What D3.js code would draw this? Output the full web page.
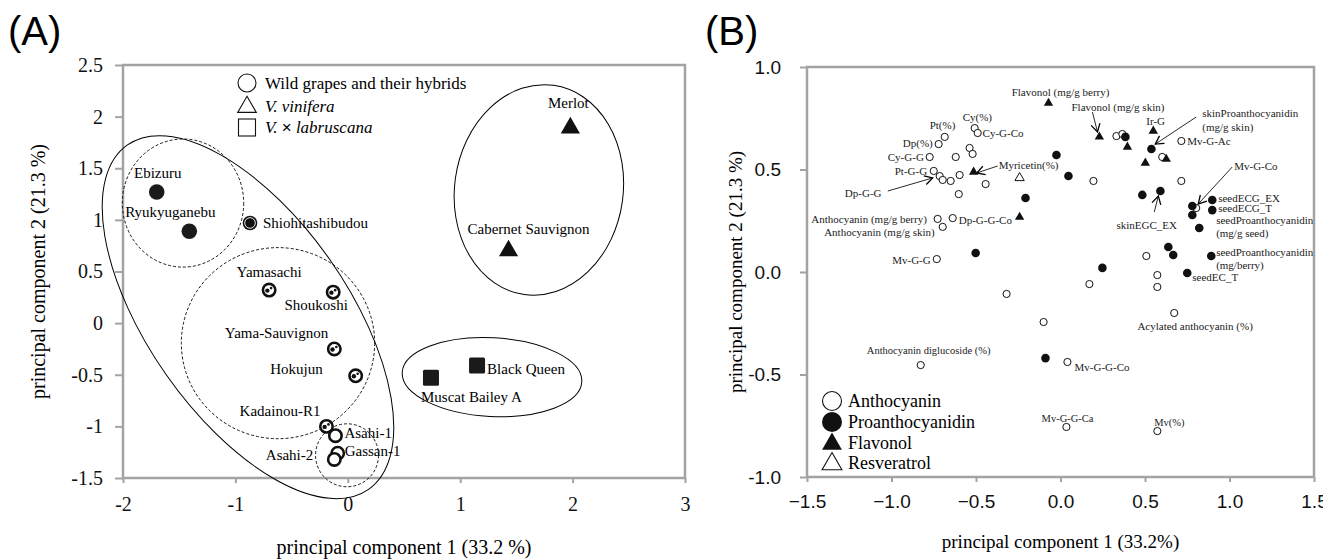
<!DOCTYPE html>
<html>
<head>
<meta charset="utf-8">
<script src="https://cdn.jsdelivr.net/npm/d3@7"></script>
<style>
  body { margin: 0; background: #fff; }
  svg { display: block; }
</style>
</head>
<body>
<svg width="1323" height="560"></svg>
<script>
// ---------- panel A data : cultivars on PC1 / PC2 ----------
const grapeNames = ["Ebizuru", "Ryukyuganebu", "Shiohitashibudou", "Yamasachi", "Shoukoshi",
  "Yama-Sauvignon", "Hokujun", "Kadainou-R1", "Asahi-1", "Gassan-1", "Asahi-2",
  "Merlot", "Cabernet Sauvignon", "Black Queen", "Muscat Bailey A"];
const grapePC1 = [-1.70, -1.41, -0.87, -0.70, -0.13, -0.12, 0.07, -0.19, -0.11, -0.09, -0.12, 1.98, 1.43, 1.15, 0.74];
const grapePC2 = [1.27, 0.89, 0.97, 0.32, 0.30, -0.25, -0.51, -1.00, -1.09, -1.26, -1.32, 1.90, 0.71, -0.41, -0.53];
const grapeGroup = ["wild", "wild", "wild", "wild", "wild", "wild", "wild", "wild", "wild", "wild", "wild",
  "vinifera", "vinifera", "labruscana", "labruscana"];
const grapeMark = ["solid", "solid", "ringed", "spotted", "spotted", "spotted", "spotted", "spotted",
  "open", "open", "open", "solid", "solid", "solid", "solid"];

// cluster outlines (centre in PC units, radii in PC1 units, rotation deg)
const clusterCx = [-0.888, -1.466, -0.621, -0.007, 1.70, 1.283];
const clusterCy = [0.058, 1.163, -0.194, -1.28, 1.29, -0.523];
const clusterRx = [1.87, 0.54, 0.86, 0.28, 0.75, 0.80];
const clusterRy = [0.89, 0.57, 0.85, 0.28, 0.94, 0.35];
const clusterRot = [55, 0, 0, 0, 8, 3];
const clusterDashed = [false, true, true, true, false, false];

const aXTicks = [-2, -1, 0, 1, 2, 3];
const aXTickLabels = ["-2", "-1", "0", "1", "2", "3"];
const aYTicks = [2.5, 2, 1.5, 1, 0.5, 0, -0.5, -1, -1.5];
const aYTickLabels = ["2.5", "2", "1.5", "1", "0.5", "0", "-0.5", "-1", "-1.5"];

// ---------- panel B data : loadings ----------
const anthoX = [-0.685, -0.721, -0.508, -0.490, -0.774, -0.620, -0.538, -0.520, -0.750, -0.715, -0.697,
  -0.650, -0.597, -0.602, -0.443, -0.727, -0.638, -0.697, -0.732, 0.331, 0.366, 0.715, 0.602, 0.195,
  0.715, 0.803, 0.508, 0.573, 0.171, 0.573, -0.319, 0.673, -0.100, 0.041, -0.827, 0.035, 0.573];
const anthoY = [0.659, 0.624, 0.702, 0.678, 0.561, 0.561, 0.605, 0.576, 0.493, 0.468, 0.449,
  0.444, 0.473, 0.380, 0.429, 0.259, 0.263, 0.220, 0.063, 0.663, 0.673, 0.639, 0.561, 0.444,
  0.444, 0.312, 0.078, -0.015, -0.059, -0.073, -0.107, -0.200, -0.244, -0.439, -0.454, -0.756, -0.776];
const proX = [0.384, 0.538, -0.024, 0.047, -0.207, 0.484, 0.591, 0.780, 0.898, 0.898, 0.780,
  0.821, 0.638, 0.667, 0.892, 0.248, 0.750, -0.502, -0.089];
const proY = [0.659, 0.600, 0.571, 0.468, 0.361, 0.376, 0.395, 0.322, 0.351, 0.302, 0.278,
  0.215, 0.122, 0.083, 0.078, 0.020, -0.005, 0.093, -0.420];
const flavX = [-0.071, 0.230, 0.396, 0.549, 0.626, 0.502, -0.514, -0.242];
const flavY = [0.824, 0.659, 0.610, 0.688, 0.551, 0.532, 0.488, 0.268];
const resvX = [-0.242];
const resvY = [0.459];

const bXTicks = [-1.5, -1.0, -0.5, 0, 0.5, 1.0, 1.5];
const bXTickLabels = ["\u22121.5", "\u22121.0", "\u22120.5", "0.0", "0.5", "1.0", "1.5"];
const bYTicks = [1.0, 0.5, 0, -0.5, -1.0];
const bYTickLabels = ["1.0", "0.5", "0.0", "-0.5", "-1.0"];

// variable names, anchored in loading units
const varText = ["Flavonol (mg/g berry)", "Flavonol (mg/g skin)", "Ir-G", "skinProanthocyanidin", "(mg/g skin)",
  "Mv-G-Ac", "Cy(%)", "Cy-G-Co", "Pt(%)", "Dp(%)", "Cy-G-G", "Pt-G-G", "Dp-G-G", "Myricetin(%)", "Mv-G-Co",
  "seedECG_EX", "seedECG_T", "skinEGC_EX", "Anthocyanin (mg/g berry)", "Dp-G-G-Co", "Anthocyanin (mg/g skin)",
  "seedProanthocyanidin", "(mg/g seed)", "seedProanthocyanidin", "(mg/berry)", "Mv-G-G", "seedEC_T",
  "Acylated anthocyanin (%)", "Anthocyanin diglucoside (%)", "Mv-G-G-Co", "Mv-G-G-Ca", "Mv(%)"];
const varTextX = [-0.289, 0.065, 0.508, 0.839, 0.839, 0.750, -0.579, -0.461, -0.774, -0.933, -1.022, -0.981,
  -1.276, -0.366, 1.028, 0.933, 0.933, 0.331, -0.791, -0.602, -0.744, 0.921, 0.921, 0.921, 0.921, -0.768,
  0.780, 0.455, -1.146, 0.083, -0.112, 0.555];
const varTextY = [0.878, 0.805, 0.737, 0.776, 0.707, 0.639, 0.756, 0.678, 0.717, 0.629, 0.561, 0.493,
  0.385, 0.522, 0.517, 0.361, 0.312, 0.229, 0.259, 0.254, 0.195, 0.254, 0.190, 0.098, 0.034, 0.059,
  -0.024, -0.263, -0.380, -0.463, -0.712, -0.732];
const varTextEnd = ["Anthocyanin (mg/g berry)", "Anthocyanin (mg/g skin)", "Mv-G-G"];
const varTextSmall = ["Anthocyanin diglucoside (%)", "Mv-G-G-Ca", "Mv(%)"];

// pointer arrows from names to their loading
const arrowX1 = [-1.022, -0.372, 0.189, 0.803, 1.016, 0.555];
const arrowY1 = [0.395, 0.517, 0.780, 0.756, 0.512, 0.293];
const arrowX2 = [-0.756, -0.496, 0.219, 0.561, 0.815, 0.579];
const arrowY2 = [0.459, 0.483, 0.683, 0.624, 0.332, 0.371];

// ---------- drawing ----------
const svg = d3.select("svg");
const serif = "'Liberation Serif', 'Times New Roman', serif";
const sans = "'Liberation Sans', Arial, sans-serif";
const frameGrey = "#a3a3a3";

svg.append("defs").append("marker")
  .attr("id", "vhead")
  .attr("viewBox", "-10 -6 12 12")
  .attr("markerWidth", 12).attr("markerHeight", 12)
  .attr("markerUnits", "userSpaceOnUse")
  .attr("orient", "auto")
  .append("path")
  .attr("d", "M-8,-4.5L0,0L-8,4.5")
  .attr("fill", "none").attr("stroke", "#000").attr("stroke-width", 1.3);

function drawFrame(g, x, y, xTicks, xLabels, yTicks, yLabels, o) {
  const [x0, x1] = x.range();
  const [y0, y1] = y.range();
  g.append("g")
    .attr("transform", `translate(0,${y0})`)
    .call(d3.axisBottom(x).tickValues(xTicks).tickFormat((d, i) => xLabels[i])
      .tickSize(o.xTick).tickPadding(o.xPad).tickSizeOuter(0))
    .call(a => a.select(".domain").remove())
    .call(a => a.selectAll("line").attr("stroke", frameGrey).attr("stroke-width", 2))
    .call(a => a.selectAll("text").attr("fill", "#111").style("font-family", o.font).style("font-size", o.size + "px"));
  g.append("g")
    .attr("transform", `translate(${x0},0)`)
    .call(d3.axisLeft(y).tickValues(yTicks).tickFormat((d, i) => yLabels[i])
      .tickSize(o.yTick).tickPadding(o.yPad).tickSizeOuter(0))
    .call(a => a.select(".domain").remove())
    .call(a => a.selectAll("line").attr("stroke", frameGrey).attr("stroke-width", 2))
    .call(a => a.selectAll("text").attr("fill", "#111").style("font-family", o.font).style("font-size", o.size + "px"));
  g.append("rect")
    .attr("x", x0).attr("y", y1)
    .attr("width", x1 - x0).attr("height", y0 - y1)
    .attr("fill", "none").attr("stroke", frameGrey).attr("stroke-width", 2.5);
}

// ===== Panel A =====
const gA = svg.append("g");
const xA = d3.scaleLinear().domain([-2, 3]).range([123, 685]);
const yA = d3.scaleLinear().domain([-1.5, 2.5]).range([478, 65]);
const unitA = xA(1) - xA(0);

drawFrame(gA, xA, yA, aXTicks, aXTickLabels, aYTicks, aYTickLabels,
  { xTick: 5, xPad: 14, yTick: 8, yPad: 12, font: serif, size: 20 });

gA.append("text").attr("x", 8).attr("y", 45)
  .style("font-family", sans).style("font-size", "40px").text("(A)");

gA.append("text")
  .attr("x", (xA.range()[0] + xA.range()[1]) / 2).attr("y", 554)
  .attr("text-anchor", "middle")
  .style("font-family", serif).style("font-size", "20px")
  .text("principal component 1 (33.2 %)");
gA.append("text")
  .attr("transform", `translate(45,${(yA.range()[0] + yA.range()[1]) / 2}) rotate(-90)`)
  .attr("text-anchor", "middle")
  .style("font-family", serif).style("font-size", "20px")
  .text("principal component 2 (21.3 %)");

// cluster outlines
clusterCx.forEach((cx, i) => {
  const px = xA(cx), py = yA(clusterCy[i]);
  gA.append("ellipse")
    .attr("cx", px).attr("cy", py)
    .attr("rx", clusterRx[i] * unitA).attr("ry", clusterRy[i] * unitA)
    .attr("transform", `rotate(${clusterRot[i]},${px},${py})`)
    .attr("fill", "none").attr("stroke", "#000")
    .attr("stroke-width", clusterDashed[i] ? 0.9 : 1)
    .attr("stroke-dasharray", clusterDashed[i] ? "3,2" : null);
});

// points
const triA = d3.symbol().type(d3.symbolTriangle).size(160);
grapeNames.forEach((name, i) => {
  const px = xA(grapePC1[i]), py = yA(grapePC2[i]);
  const grp = grapeGroup[i], mk = grapeMark[i];
  if (grp === "vinifera") {
    gA.append("path").attr("d", triA()).attr("transform", `translate(${px},${py + 1})`).attr("fill", "#111");
  } else if (grp === "labruscana") {
    gA.append("rect").attr("x", px - 8).attr("y", py - 8).attr("width", 16).attr("height", 16)
      .attr("rx", 1.5).attr("fill", "#1a1a1a");
  } else if (mk === "solid") {
    gA.append("circle").attr("cx", px).attr("cy", py).attr("r", 7.8).attr("fill", "#1a1a1a");
  } else if (mk === "ringed") {
    gA.append("circle").attr("cx", px).attr("cy", py).attr("r", 7.3).attr("fill", "#111");
    gA.append("circle").attr("cx", px).attr("cy", py).attr("r", 5.3)
      .attr("fill", "none").attr("stroke", "#fff").attr("stroke-width", 0.9);
  } else {
    gA.append("circle").attr("cx", px).attr("cy", py).attr("r", 6.2)
      .attr("fill", "#fff").attr("stroke", "#111").attr("stroke-width", 2.6);
    if (mk === "spotted") {
      gA.append("circle").attr("cx", px - 1.8).attr("cy", py + 0.5).attr("r", 2.2).attr("fill", "#111");
      gA.append("circle").attr("cx", px + 2).attr("cy", py - 2).attr("r", 1.3).attr("fill", "#111");
    }
  }
});

// cultivar names (offsets from their marker)
const nameOffset = {
  "Ebizuru": [1, -19, "middle"], "Ryukyuganebu": [-19, -19, "middle"], "Shiohitashibudou": [13, 0, "start"],
  "Yamasachi": [0, -18, "middle"], "Shoukoshi": [-17, 13, "middle"], "Yama-Sauvignon": [-6, -16, "end"],
  "Hokujun": [-33, -7, "end"], "Kadainou-R1": [-6, -16, "end"], "Asahi-1": [9, -3, "start"],
  "Gassan-1": [7, -2, "start"], "Asahi-2": [-21, -5, "end"], "Merlot": [-2, -24, "middle"],
  "Cabernet Sauvignon": [20, -21, "middle"], "Black Queen": [10, 3, "start"], "Muscat Bailey A": [-10, 19, "start"]
};
grapeNames.forEach((name, i) => {
  const [dx, dy, anchor] = nameOffset[name];
  gA.append("text")
    .attr("x", xA(grapePC1[i]) + dx).attr("y", yA(grapePC2[i]) + dy)
    .attr("dy", "0.35em").attr("text-anchor", anchor)
    .style("font-family", serif).style("font-size", "15px")
    .text(name);
});

// legend A
const legA = gA.append("g").attr("transform", "translate(247,0)");
legA.append("circle").attr("cx", 0).attr("cy", 83).attr("r", 9)
  .attr("fill", "#fff").attr("stroke", "#111").attr("stroke-width", 1.1);
legA.append("path").attr("d", d3.symbol().type(d3.symbolTriangle).size(150)())
  .attr("transform", "translate(0,107)").attr("fill", "#fff").attr("stroke", "#111").attr("stroke-width", 1.1);
legA.append("rect").attr("x", -8.5).attr("y", 119).attr("width", 17).attr("height", 17)
  .attr("fill", "#fff").attr("stroke", "#111").attr("stroke-width", 1.1);
const legAText = legA.append("g").style("font-family", serif).style("font-size", "17px");
legAText.append("text").attr("x", 18).attr("y", 83).attr("dy", "0.35em").text("Wild grapes and their hybrids");
legAText.append("text").attr("x", 18).attr("y", 106).attr("dy", "0.35em").style("font-style", "italic").text("V. vinifera");
const lab = legAText.append("text").attr("x", 18).attr("y", 127).attr("dy", "0.35em").style("font-style", "italic");
lab.append("tspan").text("V. ");
lab.append("tspan").style("font-style", "normal").style("font-family", sans).text("\u00d7");
lab.append("tspan").text(" labruscana");

// ===== Panel B =====
const gB = svg.append("g");
const xB = d3.scaleLinear().domain([-1.5, 1.5]).range([807, 1314]);
const yB = d3.scaleLinear().domain([-1, 1]).range([477, 67]);

drawFrame(gB, xB, yB, bXTicks, bXTickLabels, bYTicks, bYTickLabels,
  { xTick: 5, xPad: 13, yTick: 7, yPad: 19, font: sans, size: 19 });

gB.append("text").attr("x", 705).attr("y", 45)
  .style("font-family", sans).style("font-size", "40px").text("(B)");
gB.append("text")
  .attr("x", (xB.range()[0] + xB.range()[1]) / 2).attr("y", 548)
  .attr("text-anchor", "middle")
  .style("font-family", serif).style("font-size", "19px")
  .text("principal component 1 (33.2%)");
gB.append("text")
  .attr("transform", `translate(742,${(yB.range()[0] + yB.range()[1]) / 2}) rotate(-90)`)
  .attr("text-anchor", "middle")
  .style("font-family", serif).style("font-size", "19px")
  .text("principal component 2 (21.3 %)");

// arrows
arrowX1.forEach((x1, i) => {
  gB.append("line")
    .attr("x1", xB(x1)).attr("y1", yB(arrowY1[i]))
    .attr("x2", xB(arrowX2[i])).attr("y2", yB(arrowY2[i]))
    .attr("stroke", "#111").attr("stroke-width", 0.9)
    .attr("marker-end", "url(#vhead)");
});

const triB = d3.symbol().type(d3.symbolTriangle).size(38);
anthoX.forEach((x, i) => {
  gB.append("circle").attr("cx", xB(x)).attr("cy", yB(anthoY[i])).attr("r", 3.6)
    .attr("fill", "#fff").attr("stroke", "#111").attr("stroke-width", 1);
});
proX.forEach((x, i) => {
  gB.append("circle").attr("cx", xB(x)).attr("cy", yB(proY[i])).attr("r", 4.3).attr("fill", "#111");
});
flavX.forEach((x, i) => {
  gB.append("path").attr("d", triB()).attr("transform", `translate(${xB(x)},${yB(flavY[i])})`).attr("fill", "#111");
});
resvX.forEach((x, i) => {
  gB.append("path").attr("d", triB()).attr("transform", `translate(${xB(x)},${yB(resvY[i])})`)
    .attr("fill", "#fff").attr("stroke", "#111").attr("stroke-width", 1);
});

varText.forEach((t, i) => {
  gB.append("text")
    .attr("x", xB(varTextX[i])).attr("y", yB(varTextY[i]))
    .attr("dy", "0.35em")
    .attr("text-anchor", varTextEnd.includes(t) ? "end" : "start")
    .style("font-family", serif)
    .style("font-size", varTextSmall.includes(t) ? "10.5px" : "11px")
    .attr("fill", "#222")
    .text(t);
});

// legend B
const legB = gB.append("g").attr("transform", "translate(832,0)");
const legRows = [401, 422, 443, 463];
legB.append("circle").attr("cx", 0).attr("cy", legRows[0]).attr("r", 9.5)
  .attr("fill", "#fff").attr("stroke", "#111").attr("stroke-width", 1.1);
legB.append("circle").attr("cx", 0).attr("cy", legRows[1]).attr("r", 10).attr("fill", "#111");
legB.append("path").attr("d", d3.symbol().type(d3.symbolTriangle).size(170)())
  .attr("transform", `translate(0,${legRows[2] + 1})`).attr("fill", "#111");
legB.append("path").attr("d", d3.symbol().type(d3.symbolTriangle).size(170)())
  .attr("transform", `translate(0,${legRows[3] + 1})`).attr("fill", "#fff").attr("stroke", "#111").attr("stroke-width", 1.1);
["Anthocyanin", "Proanthocyanidin", "Flavonol", "Resveratrol"].forEach((t, i) => {
  legB.append("text").attr("x", 16).attr("y", legRows[i]).attr("dy", "0.35em")
    .style("font-family", serif).style("font-size", "18px").text(t);
});
</script>
</body>
</html>
